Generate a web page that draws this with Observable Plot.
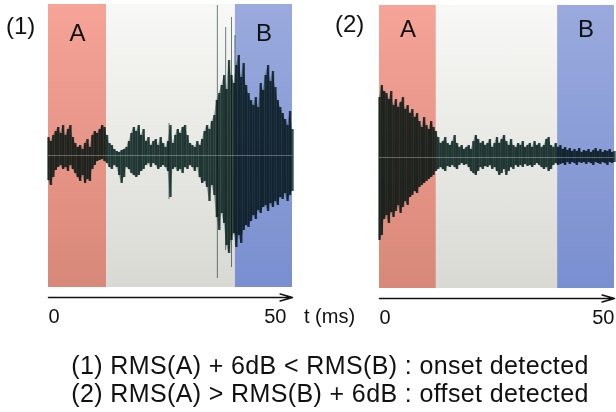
<!DOCTYPE html>
<html><head><meta charset="utf-8">
<script src="https://cdn.jsdelivr.net/npm/d3@7"></script>
<script src="https://cdn.jsdelivr.net/npm/@observablehq/plot@0.6"></script>
<style>
body{margin:0;background:#fff;}
#c{position:relative;width:616px;height:412px;font-family:"Liberation Sans",Arial,sans-serif;color:#111;overflow:hidden;}
#c svg{position:absolute;top:0;}
.lbl{position:absolute;white-space:nowrap;line-height:1;}
</style></head><body><div id="c"></div>
<script>
// ---- data (amplitude in arbitrary units, sampled every 0.5 ms from 0 to 50 ms) ----
const step = 0.5;
const tickValues = [0, 50];
const panelLabels = ["(1)", "(2)"];
const regionLabels = ["A", "B"];
const axisLabel = "t (ms)";
const captionLines = [
  "(1) RMS(A) + 6dB < RMS(B) : onset detected",
  "(2) RMS(A) > RMS(B) + 6dB : offset detected"
];
// region bounds in ms: [A end, B start]
const p1Regions = [11.9, 38.3];
const p2Regions = [12.1, 37.9];

const p1Hi = [18,14,20,24,28,22,30,20,26,30, 18,12,8,10,6,12,16,8,20,24, 22,26,30,28,20,12,10,6,4,3,
  5,6,8,14,22,28,24,30,20,26, 14,18,10,14,16,10,18,12,8,14, 30,12,20,26,22,28,30,20,12,10,
  8,14,10,16,24,30,26,34,40,55, 62,70,80,66,95,80,72,90,100,78, 92,70,62,55,50,58,48,72,65,80,
  90,74,84,68,55,48,42,36,30,44,26];
const p1Lo = [-25,-30,-22,-15,-12,-10,-14,-12,-16,-10, -14,-18,-22,-26,-20,-28,-24,-26,-14,-10,
  -6,-5,-4,-6,-8,-12,-14,-10,-12,-20, -28,-22,-12,-14,-18,-20,-22,-20,-16,-14,
  -10,-8,-12,-8,-10,-14,-12,-10,-12,-16, -42,-14,-12,-16,-14,-18,-12,-14,-10,-12,
  -16,-12,-22,-28,-26,-32,-46,-30,-40,-62, -75,-58,-68,-90,-98,-85,-78,-92,-80,-88,
  -75,-70,-72,-66,-60,-64,-55,-58,-52,-50, -56,-48,-52,-46,-50,-42,-44,-38,-46,-40,-36];
// isolated thin spikes in panel (1): time ms, top, bottom
const p1SpikeT  = [34.6, 36.3, 37.5, 38.2, 24.7];
const p1SpikeHi = [150, 128, 138, 120, 32];
const p1SpikeLo = [-123, -95, -112, -80, -44];

const p2Hi = [60,72,66,64,58,66,52,58,50,55, 60,48,52,44,48,40,44,36,30,40, 32,28,36,30,26,20,14,16,20,14,
  12,16,22,14,10,12,8,10,12,8, 16,22,18,14,16,12,14,18,10,14, 20,14,18,22,16,12,18,12,10,14,
  12,16,10,12,14,10,16,12,14,10, 12,18,20,12,10,14,10,12,8,10, 7,9,6,8,6,9,5,7,6,8,
  5,7,9,6,8,5,7,6,8,5,6];
const p2Lo = [-83,-78,-62,-58,-66,-55,-60,-54,-48,-56, -50,-44,-48,-40,-38,-34,-36,-30,-28,-26,
  -24,-22,-20,-18,-14,-12,-10,-12,-14,-9, -10,-8,-10,-12,-8,-6,-8,-7,-10,-14,
  -16,-18,-14,-10,-12,-9,-10,-8,-12,-10, -14,-18,-16,-12,-18,-14,-10,-12,-8,-10,
  -8,-10,-7,-9,-8,-10,-8,-6,-8,-10, -12,-10,-14,-12,-8,-6,-8,-7,-6,-8,
  -5,-7,-5,-6,-8,-5,-6,-5,-7,-5, -6,-8,-5,-6,-7,-5,-6,-8,-5,-6,-5];
const p2SpikeT = [], p2SpikeHi = [], p2SpikeLo = [];

// ---- drawing ----
function gradientDefs(id) {
  return () => {
    const defs = d3.create("svg:defs");
    const grads = [
      ["A", "#f6a398", "#d88878"],
      ["M", "#f8f8f6", "#d9d9d4"],
      ["B", "#9aaade", "#7a8fd0"]
    ];
    for (const [k, c0, c1] of grads) {
      const g = defs.append("linearGradient").attr("id", id + k)
        .attr("x1", 0).attr("y1", 0).attr("x2", 0).attr("y2", 1);
      g.append("stop").attr("offset", "0%").attr("stop-color", c0);
      g.append("stop").attr("offset", "100%").attr("stop-color", c1);
    }
    return defs.node();
  };
}

function makePanel(cfg) {
  const {id, hi, lo, spT, spHi, spLo, regions, yDomain, width, marginLeft, marginRight, marginTop, bottom, labelDy, endDx} = cfg;
  const height = 330;
  const wave = hi.map((h, i) => ({t: i * step, hi: h, lo: lo[i]}));
  const spikes = spT.map((t, i) => ({t, hi: spHi[i], lo: spLo[i]}));
  const [aEnd, bStart] = regions;
  const xMax = tickValues[1];
  return Plot.plot({
    width, height, marginLeft, marginRight, marginTop, marginBottom: height - bottom,
    x: {domain: [tickValues[0], xMax], label: null},
    y: {domain: yDomain, axis: null},
    style: {fontFamily: '"Liberation Sans", Arial, sans-serif', background: "transparent", color: "#111", overflow: "visible"},
    marks: [
      gradientDefs(id),
      Plot.rect([{x1: 0, x2: aEnd}], {x1: "x1", x2: "x2", fill: `url(#${id}A)`}),
      Plot.rect([{x1: aEnd, x2: bStart}], {x1: "x1", x2: "x2", fill: `url(#${id}M)`}),
      Plot.rect([{x1: bStart, x2: xMax}], {x1: "x1", x2: "x2", fill: `url(#${id}B)`}),
      Plot.ruleX(spikes, {x: "t", y1: "lo", y2: "hi", stroke: "#6f8485", strokeWidth: 1, mixBlendMode: "multiply"}),
      Plot.areaY(wave, {x: "t", y1: "lo", y2: "hi", curve: "linear", fill: "#5b7a7a", fillOpacity: 0.55, mixBlendMode: "multiply"}),
      Plot.ruleX(wave, {x: "t", y1: "lo", y2: "hi", stroke: "#34534f", strokeWidth: 2.4, mixBlendMode: "multiply"}),
      Plot.ruleY([0], {stroke: "#ffffff", strokeOpacity: 0.3, strokeWidth: 1}),
      Plot.text([{x: aEnd / 2, s: regionLabels[0]}, {x: (bStart + xMax) / 2, s: regionLabels[1]}],
        {x: "x", text: "s", frameAnchor: "top", lineAnchor: "top", dy: labelDy, fontSize: 24, fill: "#111"}),
      Plot.arrow([{x1: 0, x2: xMax, y: yDomain[0] - 10}],
        {x1: "x1", x2: "x2", y1: "y", y2: "y", stroke: "#111", strokeWidth: 1.6, headLength: 12, headAngle: 32}),
      Plot.axisX([tickValues[0]], {tickSize: 0, tickPadding: 21, textAnchor: "start", fontSize: 20, fill: "#111"}),
      Plot.axisX([tickValues[1]], {tickSize: 0, tickPadding: 21, textAnchor: "end", dx: endDx, fontSize: 20, fill: "#111"})
    ]
  });
}

const c = document.getElementById("c");
const svg1 = makePanel({id: "g1", hi: p1Hi, lo: p1Lo, spT: p1SpikeT, spHi: p1SpikeHi, spLo: p1SpikeLo,
  regions: p1Regions, yDomain: [-132, 151], width: 300, marginLeft: 48, marginRight: 8, marginTop: 4, bottom: 287, labelDy: 19, endDx: -6});
svg1.style.left = "0px";
c.appendChild(svg1);
const svg2 = makePanel({id: "g2", hi: p2Hi, lo: p2Lo, spT: p2SpikeT, spHi: p2SpikeHi, spLo: p2SpikeLo,
  regions: p2Regions, yDomain: [-131, 152], width: 284, marginLeft: 48, marginRight: 1, marginTop: 5, bottom: 288, labelDy: 14, endDx: 0});
svg2.style.left = "331px";
c.appendChild(svg2);

function addLabel(text, left, top, size) {
  const d = document.createElement("div");
  d.className = "lbl";
  d.textContent = text;
  d.style.left = left + "px";
  d.style.top = top + "px";
  d.style.fontSize = size + "px";
  c.appendChild(d);
  return d;
}
addLabel(panelLabels[0], 6, 14, 24);
addLabel(panelLabels[1], 335, 12, 24);
addLabel(axisLabel, 304, 306, 20);
const cap = document.createElement("div");
cap.style.cssText = "position:absolute;left:30px;width:600px;top:351px;text-align:center;font-size:25px;letter-spacing:0.38px;line-height:28px;color:#111;";
cap.innerHTML = captionLines.map(s => s.replace(/&/g,"&amp;").replace(/</g,"&lt;").replace(/>/g,"&gt;")).join("<br>");
c.appendChild(cap);
</script>
</body></html>
